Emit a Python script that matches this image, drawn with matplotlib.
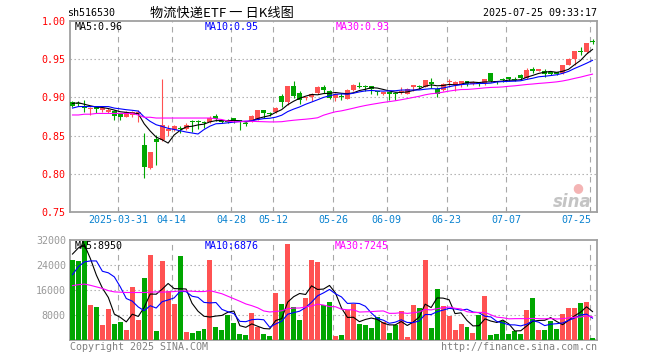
import numpy as np
import pandas as pd
import matplotlib
matplotlib.use("Agg")
import matplotlib.pyplot as plt

# ---------------- data ----------------
opens = [0.894, 0.893, 0.889, 0.885, 0.888, 0.883, 0.881, 0.882, 0.878, 0.875,
         0.877, 0.878, 0.838, 0.807, 0.846, 0.844, 0.856, 0.857, 0.860, 0.859,
         0.869, 0.869, 0.868, 0.868, 0.876, 0.870, 0.869, 0.873, 0.871, 0.867,
         0.869, 0.871, 0.883, 0.879, 0.881, 0.902, 0.894, 0.915, 0.906, 0.899,
         0.900, 0.906, 0.914, 0.908, 0.899, 0.901, 0.898, 0.910, 0.915, 0.914,
         0.915, 0.909, 0.904, 0.907, 0.906, 0.907, 0.905, 0.913, 0.915, 0.914,
         0.920, 0.911, 0.910, 0.920, 0.916, 0.916, 0.922, 0.918, 0.919, 0.919,
         0.932, 0.922, 0.924, 0.927, 0.924, 0.929, 0.925, 0.937, 0.935, 0.935,
         0.933, 0.933, 0.932, 0.943, 0.950, 0.960, 0.959, 0.974]
highs = [0.895, 0.895, 0.897, 0.888, 0.888, 0.888, 0.886, 0.883, 0.879, 0.882,
         0.882, 0.883, 0.853, 0.829, 0.851, 0.924, 0.864, 0.864, 0.862, 0.866,
         0.870, 0.870, 0.869, 0.876, 0.878, 0.871, 0.872, 0.873, 0.871, 0.868,
         0.877, 0.884, 0.884, 0.881, 0.887, 0.905, 0.915, 0.921, 0.909, 0.901,
         0.906, 0.915, 0.916, 0.910, 0.906, 0.906, 0.911, 0.917, 0.920, 0.916,
         0.915, 0.909, 0.907, 0.907, 0.907, 0.913, 0.912, 0.916, 0.916, 0.923,
         0.925, 0.914, 0.919, 0.924, 0.921, 0.922, 0.922, 0.921, 0.919, 0.924,
         0.932, 0.922, 0.926, 0.927, 0.927, 0.931, 0.938, 0.940, 0.937, 0.937,
         0.934, 0.933, 0.943, 0.951, 0.961, 0.966, 0.971, 0.977]
lows = [0.888, 0.889, 0.881, 0.877, 0.879, 0.881, 0.879, 0.870, 0.870, 0.874,
        0.875, 0.868, 0.794, 0.806, 0.811, 0.843, 0.850, 0.856, 0.854, 0.857,
        0.855, 0.858, 0.860, 0.867, 0.869, 0.866, 0.866, 0.866, 0.857, 0.863,
        0.868, 0.870, 0.873, 0.876, 0.880, 0.888, 0.890, 0.899, 0.891, 0.896,
        0.895, 0.904, 0.906, 0.898, 0.895, 0.896, 0.898, 0.909, 0.912, 0.909,
        0.905, 0.903, 0.903, 0.897, 0.897, 0.904, 0.904, 0.909, 0.911, 0.913,
        0.912, 0.900, 0.909, 0.914, 0.909, 0.913, 0.915, 0.916, 0.915, 0.916,
        0.920, 0.918, 0.920, 0.922, 0.921, 0.924, 0.924, 0.932, 0.934, 0.927,
        0.929, 0.929, 0.931, 0.942, 0.943, 0.955, 0.958, 0.970]
closes = [0.889, 0.891, 0.886, 0.886, 0.885, 0.886, 0.884, 0.876, 0.875, 0.881,
          0.881, 0.881, 0.809, 0.828, 0.841, 0.864, 0.859, 0.862, 0.858, 0.864,
          0.868, 0.868, 0.867, 0.873, 0.872, 0.868, 0.868, 0.869, 0.869, 0.865,
          0.876, 0.883, 0.879, 0.878, 0.886, 0.894, 0.915, 0.902, 0.897, 0.900,
          0.905, 0.913, 0.910, 0.899, 0.905, 0.900, 0.910, 0.916, 0.914, 0.913,
          0.911, 0.907, 0.907, 0.904, 0.905, 0.909, 0.911, 0.916, 0.914, 0.923,
          0.918, 0.905, 0.918, 0.921, 0.920, 0.921, 0.918, 0.920, 0.918, 0.924,
          0.922, 0.920, 0.923, 0.924, 0.923, 0.926, 0.936, 0.935, 0.937, 0.931,
          0.931, 0.930, 0.942, 0.950, 0.961, 0.959, 0.971, 0.973]
volumes = [25450, 25130, 31680, 11060, 10420, 4830, 9990, 5155, 5800, 3220,
           17080, 6440, 19760, 27065, 2900, 25130, 15570, 11600, 26740, 2580,
           2255, 2900, 3540, 25450, 4190, 3220, 8055, 5480, 1930, 1610,
           8700, 4190, 1930, 1290, 15140, 11600, 30610, 10630, 6440, 13530,
           25450, 24810, 11280, 12240, 1290, 1610, 9670, 11600, 5155, 4830,
           3870, 7410, 5800, 2255, 4830, 9340, 970, 11280, 10310, 25450,
           3870, 16430, 10950, 7730, 3220, 5155, 4190, 2255, 8055, 14180,
           1610, 1930, 6120, 1930, 2900, 1930, 9670, 13530, 3220, 3220,
           6120, 3540, 8380, 10310, 10310, 11920, 12240, 645]

# moving-average values before a full window exists
ma5_head = [0.892, 0.893, 0.891, 0.889]
ma10_head = [0.886, 0.888, 0.888, 0.888, 0.888, 0.888, 0.888, 0.886, 0.885]
ma30_head = [0.877, 0.877, 0.878, 0.878, 0.879, 0.879, 0.879, 0.879, 0.879, 0.879,
             0.879, 0.877, 0.874, 0.874, 0.873, 0.873, 0.873, 0.873, 0.873, 0.873,
             0.873, 0.873, 0.873, 0.873, 0.872, 0.871, 0.869, 0.868, 0.868]
vma5_head = [27500, 29500, 30500, 26000]
vma10_head = [20900, 23500, 25000, 25300, 25300, 22000, 21500, 20200, 17000]
vma30_head = [17400, 17700, 17900, 17500, 17000, 16500, 15800, 15400, 15300, 15200,
              15200, 15200, 15200, 15300, 15400, 15300, 15400, 15500, 15700, 15700,
              15600, 15500, 15500, 15800, 15300, 14800, 14000, 13200, 12400]

date_idx = [8, 17, 27, 34, 44, 53, 63, 73, 87]
date_labels = ["2025-03-31", "04-14", "04-28", "05-12", "05-26", "06-09",
               "06-23", "07-07", "07-25"]
price_ticks = [1.00, 0.95, 0.90, 0.85, 0.80, 0.75]
price_tick_labels = ["1.00", "0.95", "0.90", "0.85", "0.80", "0.75"]
vol_ticks = [32000, 24000, 16000, 8000]
vol_tick_labels = ["32000", "24000", "16000", "8000"]
ma_price_labels = ["MA5:0.96", "MA10:0.95", "MA30:0.93"]
ma_vol_labels = ["MA5:8950", "MA10:6876", "MA30:7245"]
symbol = "sh516530"
title = "物流快递ETF 一 日K线图"
timestamp = "2025-07-25 09:33:17"

# ---------------- styling ----------------
RED = "#ff5252"
GREEN = "#00a600"
MA_COLORS = ["#000000", "#0000ff", "#ff00ff"]
GRID = "#a8a8a8"
SPINE = "#a0a0a0"
MONO = "DejaVu Sans Mono"
FS = 7.2
LW = 0.8

W, H = 660, 360
fig = plt.figure(figsize=(W / 100, H / 100), dpi=100)
fig.patch.set_facecolor("white")


def ax_rect(left, top, right, bottom):
    return [left / W, 1 - bottom / H, (right - left) / W, (bottom - top) / H]


ax1 = fig.add_axes(ax_rect(70, 21, 597, 212))
ax2 = fig.add_axes(ax_rect(70, 240, 597, 340))

n = len(closes)
x = np.arange(n)
o = np.array(opens); h = np.array(highs); l = np.array(lows); c = np.array(closes)
v = np.array(volumes)
colors = [RED if cc >= oo else GREEN for oo, cc in zip(o, c)]


def moving(arr, win, head):
    m = pd.Series(arr, dtype=float).rolling(win).mean().to_numpy()
    m[:win - 1] = head
    return m


ma_price = [moving(c, 5, ma5_head), moving(c, 10, ma10_head), moving(c, 30, ma30_head)]
ma_vol = [moving(v, 5, vma5_head), moving(v, 10, vma10_head), moving(v, 30, vma30_head)]

bar_w = 5 / 6
xlim = (-2.5 / 6, n - 1 + 4.5 / 6)
grid_x = [i - 2.5 / 6 for i in date_idx]

for ax in (ax1, ax2):
    ax.set_xlim(*xlim)
    for s in ax.spines.values():
        s.set_color(SPINE)
        s.set_linewidth(1.3)
    for gx in grid_x:
        ax.axvline(gx, color=GRID, lw=LW, ls=(0, (5, 4)), zorder=0)

# price panel
ax1.set_ylim(0.75, 1.00)
for yv in price_ticks[1:-1]:
    ax1.axhline(yv, color=GRID, lw=LW, ls=(0, (1.2, 2.4)), zorder=0)

body_min = 0.0013
for i in range(n):
    ax1.vlines(x[i], l[i], h[i], color=colors[i], lw=LW, zorder=2)
bottoms = np.minimum(o, c)
heights = np.maximum(np.abs(c - o), body_min)
ax1.bar(x, heights, bottom=bottoms, width=bar_w, color=colors, zorder=3, linewidth=0)
for m, col in zip(ma_price, MA_COLORS):
    ax1.plot(x, m, color=col, lw=LW, zorder=4)

ax1.set_yticks(price_ticks)
ax1.set_yticklabels(price_tick_labels, family=MONO, fontsize=FS, color="#ff0000")
ax1.tick_params(axis="y", length=0, pad=3)
ax1.set_xticks(grid_x)
ax1.set_xticklabels([])
ax1.tick_params(axis="x", direction="in", length=3, color=SPINE)

for i, (gx, lab) in enumerate(zip(grid_x, date_labels)):
    last = i == len(date_labels) - 1
    ax1.annotate(lab, xy=(gx, 0), xycoords=("data", "axes fraction"),
                 xytext=(1 if last else 0, -8), textcoords="offset pixels",
                 ha="right" if last else "center", va="center",
                 family=MONO, fontsize=FS, color="#0a82d0")

# volume panel
ax2.set_ylim(0, 32000)
for yv in vol_ticks[1:]:
    ax2.axhline(yv, color=GRID, lw=LW, ls=(0, (1.2, 2.4)), zorder=0)
ax2.bar(x, v, width=bar_w, color=colors, zorder=3, linewidth=0)
for m, col in zip(ma_vol, MA_COLORS):
    ax2.plot(x, m, color=col, lw=LW, zorder=4)
ax2.set_yticks(vol_ticks)
ax2.set_yticklabels(vol_tick_labels, family=MONO, fontsize=FS, color="#999999")
ax2.tick_params(axis="y", length=0, pad=3)
ax2.set_xticks([])

# texts
def ftext(px, py, s, **kw):
    kw.setdefault("family", MONO)
    kw.setdefault("fontsize", FS)
    fig.text(px / W, 1 - py / H, s, va="center", **kw)

ftext(67, 13, symbol, color="black")
ftext(150, 13, title, color="black", family=["Noto Sans CJK SC", "DejaVu Sans"], fontsize=9.5)
ftext(597, 13, timestamp, color="black", ha="right")

for px, s, col in zip([75, 205, 336], ma_price_labels, MA_COLORS):
    ftext(px, 27, s, color=col)
for px, s, col in zip([75, 205, 335], ma_vol_labels, MA_COLORS):
    ftext(px, 246, s, color=col)

ftext(70, 347, "Copyright 2025 SINA.COM", color="#808080")
ftext(597, 347, "http://finance.sina.com.cn", color="#808080", ha="right")

# sina watermark
ftext(592, 202, "sina", color="#c4c4c4", ha="right", family="DejaVu Sans",
      fontsize=12, fontweight="bold", style="italic")
ftext(578, 188, "\u25cf", color="#f4b4b4", ha="center", family="DejaVu Sans", fontsize=9)

fig.savefig("out.png", dpi=100, facecolor="white")
